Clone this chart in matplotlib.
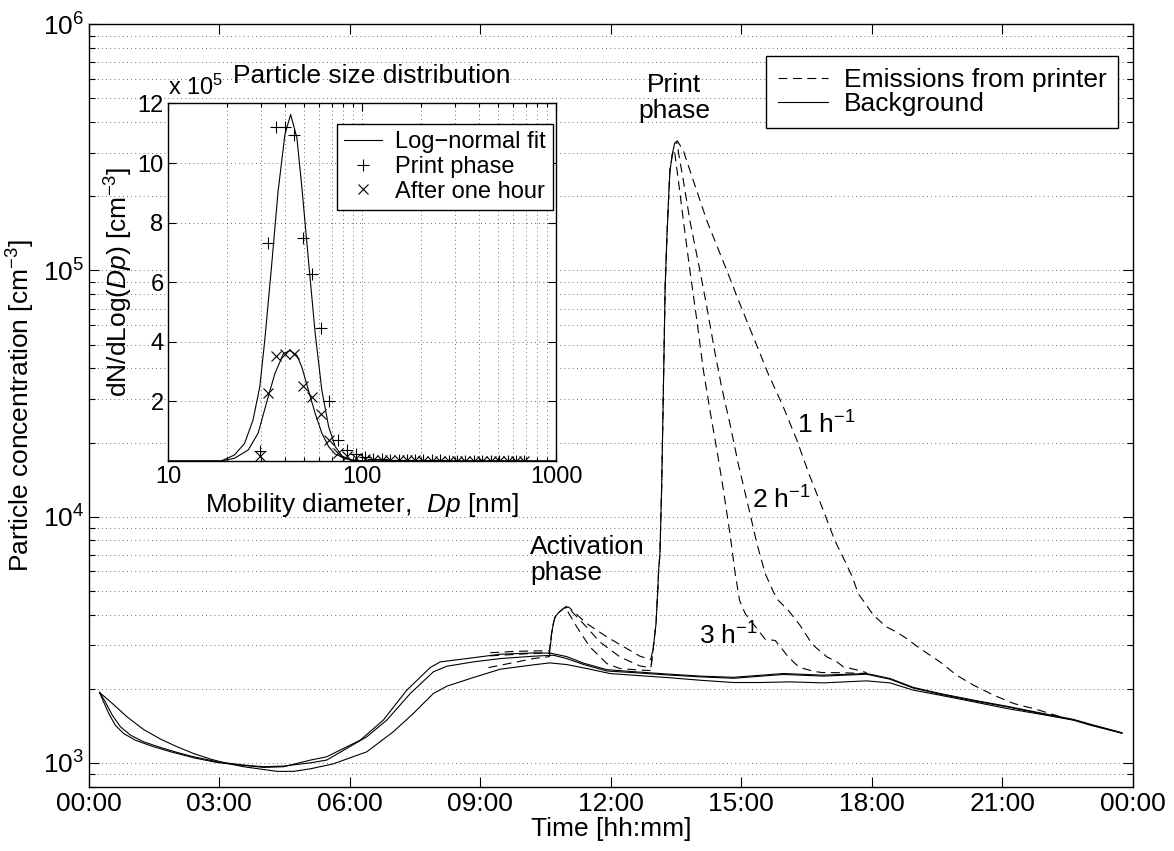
import matplotlib
matplotlib.use("Agg")
import matplotlib.pyplot as plt
from matplotlib.ticker import NullFormatter, LogLocator

plt.rcParams['font.family'] = ['Liberation Sans', 'DejaVu Sans']
plt.rcParams['mathtext.fontset'] = 'custom'
plt.rcParams['mathtext.rm'] = 'Liberation Sans'
plt.rcParams['mathtext.it'] = 'Liberation Sans:italic'
plt.rcParams['mathtext.default'] = 'regular'

# ---- main panel: time of day [h] and particle concentration [cm^-3] ----
hour_ticks = [0, 3, 6, 9, 12, 15, 18, 21, 24]
hour_labels = ["00:00", "03:00", "06:00", "09:00", "12:00", "15:00", "18:00", "21:00", "00:00"]

# background, 3 per hour
t_bg3 = [0.25, 0.34, 0.46, 0.61, 0.80, 1.07, 1.42, 1.88, 2.41, 2.95, 3.56, 4.02, 4.48, 5.10, 5.47,
         6.24, 6.77, 7.31, 7.85, 8.08, 8.69, 9.46, 10.22, 10.60, 10.99, 11.37, 11.91, 12.52, 13.29,
         14.05, 14.82, 15.97, 16.89, 17.88, 18.42, 18.96, 19.57, 20.34, 21.10, 21.87, 22.64, 23.02, 23.75]
c_bg3 = [1930, 1769, 1586, 1422, 1316, 1236, 1173, 1109, 1048, 1003, 976, 958, 964, 1026, 1058,
         1236, 1490, 1972, 2437, 2570, 2651, 2761, 2795, 2790, 2700, 2540, 2390, 2345, 2295,
         2250, 2225, 2305, 2270, 2305, 2200, 2023, 1912, 1797, 1698, 1595, 1500, 1435, 1325]

# background, 2 per hour
t_bg2 = [0.25, 0.38, 0.54, 0.73, 0.96, 1.26, 1.65, 2.03, 2.41, 2.95, 3.56, 4.02, 4.48, 5.10, 5.47,
         6.39, 6.85, 7.39, 7.92, 8.23, 8.84, 9.46, 10.22, 10.68, 10.99, 11.37, 11.91, 12.52, 13.29,
         14.05, 14.82, 15.97, 16.89, 17.88, 18.42, 18.96, 19.57, 20.34, 21.10, 21.87, 22.64, 23.02, 23.75]
c_bg2 = [1930, 1769, 1562, 1400, 1295, 1217, 1154, 1102, 1058, 1010, 979, 964, 970, 1000, 1026,
         1275, 1490, 1911, 2341, 2467, 2570, 2651, 2710, 2735, 2650, 2510, 2360, 2325, 2275,
         2235, 2205, 2285, 2250, 2290, 2185, 2010, 1900, 1785, 1688, 1587, 1493, 1430, 1322]

# background, 1 per hour
t_bg1 = [0.25, 0.50, 0.88, 1.26, 1.65, 2.03, 2.41, 2.80, 3.18, 3.56, 3.95, 4.33, 4.71, 5.10, 5.62,
         6.39, 7.00, 7.46, 7.92, 8.23, 8.84, 9.46, 10.22, 10.60, 10.99, 11.45, 11.98, 12.52, 13.29,
         14.05, 14.82, 15.43, 16.12, 16.89, 17.88, 18.42, 18.96, 19.57, 20.34, 21.10, 21.87, 22.64,
         23.02, 23.75]
c_bg1 = [1930, 1769, 1537, 1366, 1248, 1162, 1091, 1035, 994, 964, 943, 923, 923, 946, 990,
         1108, 1336, 1586, 1911, 2047, 2220, 2400, 2500, 2546, 2506, 2415, 2305, 2269, 2220,
         2165, 2119, 2119, 2132, 2112, 2152, 2112, 1972, 1882, 1769, 1662, 1576, 1490,
         1422, 1318]

# emissions from printer, 3 per hour
t_em3 = [9.23, 9.85, 10.40, 10.59, 10.64, 10.68, 10.72, 10.80, 10.91, 10.95, 11.22, 11.52, 11.91,
         12.21, 12.67, 12.92, 12.98, 13.04, 13.08, 13.10, 13.13, 13.17, 13.21, 13.25, 13.29, 13.33,
         13.36, 13.42, 13.46, 13.555, 13.67, 13.82, 13.98, 14.13, 14.28, 14.44, 14.59, 14.74,
         14.86, 14.96, 15.09, 15.55, 15.78, 15.93, 16.08, 16.28, 16.43, 16.66, 16.85, 17.27, 17.88]
c_em3 = [2720, 2760, 2790, 2790, 3349, 3676, 3912, 4074, 4229, 4295, 3563, 2956, 2530,
         2415, 2380, 2370, 2956, 3676, 5020, 6048, 7070, 13200, 33500, 85300, 136000, 198000,
         254000, 300000, 310000, 231000, 159000, 99700, 62500, 39200, 27000, 18600, 12800, 8520,
         5870, 4570, 4037, 3176, 3139, 2912, 2692, 2490, 2415, 2355, 2326, 2323, 2305]

# emissions from printer, 2 per hour
t_em2 = [9.23, 9.85, 10.38, 10.59, 10.64, 10.68, 10.72, 10.80, 10.91, 10.99, 11.37, 11.75, 12.21,
         12.67, 12.92, 12.98, 13.04, 13.08, 13.10, 13.13, 13.17, 13.21, 13.25, 13.29, 13.33, 13.36,
         13.42, 13.47, 13.52, 13.58, 13.67, 13.82, 14.05, 14.21, 14.40, 14.55, 14.74, 14.93, 15.20,
         15.36, 15.55, 15.74, 15.85, 16.08, 16.35, 16.62, 16.74, 16.97, 17.20, 17.35, 17.69, 17.88]
c_em2 = [2800, 2838, 2850, 2850, 3349, 3676, 3912, 4074, 4229, 4322, 3676, 3097, 2692,
         2475, 2430, 2956, 3676, 5020, 6048, 7070, 13200, 33500, 85300, 136000, 198000, 254000,
         300000, 330000, 330000, 285000, 231000, 159000, 99700, 70800, 45800, 33500, 23800, 16400, 10300,
         7760, 5870, 4940, 4571, 4165, 3620, 3051, 2912, 2692, 2569, 2452, 2377, 2323]

# emissions from printer, 1 per hour
t_em1 = [9.19, 9.80, 10.22, 10.59, 10.64, 10.68, 10.72, 10.80, 10.91, 11.03, 11.45, 11.91, 12.37,
         12.67, 12.92, 12.98, 13.04, 13.08, 13.10, 13.13, 13.17, 13.21, 13.25, 13.29, 13.33, 13.36,
         13.42, 13.47, 13.53, 13.67, 13.90, 14.21, 14.67, 14.97, 15.28, 15.62, 15.97, 16.28, 16.55,
         16.85, 17.15, 17.40, 17.55, 17.69, 17.85, 18.04, 18.34, 18.57, 18.80, 19.11, 19.57, 19.95,
         20.34, 20.80, 21.26, 21.56, 21.72, 22.30]
c_em1 = [2437, 2560, 2651, 2700, 3349, 3676, 3912, 4074, 4229, 4295, 3676, 3246, 2911,
         2710, 2626, 2956, 3676, 5020, 6048, 7070, 13200, 33500, 85300, 136000, 198000, 254000,
         300000, 330000, 336000, 306000, 231000, 159000, 99700, 73000, 53500, 38000, 27800, 20400, 15000,
         11000, 8000, 6500, 5700, 4864, 4434, 3972, 3562, 3400, 3197, 2912, 2569, 2269,
         2066, 1883, 1742, 1687, 1662, 1545]

# ---- inset: particle size distribution (x 10^5 cm^-3) ----
dp = [29.6, 32.7, 36.1, 39.9, 44.7, 49.7, 55.0, 61.0, 67.6, 75.0, 83.9, 93.1, 103, 114, 126, 139,
      154, 170, 187, 207, 229, 253, 280, 309, 341, 377, 417, 461, 509, 563, 622, 687]
print_phase = [0.33, 7.31, 11.2, 11.2, 10.93, 7.47, 6.28, 4.46, 2.0, 0.72, 0.37, 0.23, 0.12, 0.07,
               0.05, 0.04, 0.03, 0.03, 0.02, 0.02, 0.02, 0.02, 0.01, 0.01, 0.01, 0.01, 0.01, 0.01,
               0.01, 0.01, 0.01, 0.01]
after_hour = [0.17, 2.29, 3.51, 3.6, 3.58, 2.51, 2.15, 1.57, 0.72, 0.28, 0.17, 0.09, 0.06, 0.04,
              0.03, 0.03, 0.02, 0.02, 0.02, 0.01, 0.01, 0.01, 0.01, 0.01, 0.01, 0.01, 0.01, 0.01,
              0.01, 0.01, 0.01, 0.01]

fit_dp_print = [10, 18.7, 21.9, 24.7, 27.3, 29.6, 31.4, 34.0, 36.8, 39.9, 42.7, 46.0, 48.8, 52.8,
                57.2, 61.9, 67.1, 72.6, 78.7, 86.9, 100, 1000]
fit_print = [0, 0, 0.2, 0.59, 1.37, 2.49, 4.05, 6.5, 9.06, 10.96, 11.63, 10.85, 9.18, 6.72,
             4.27, 2.37, 1.15, 0.48, 0.17, 0.03, 0, 0]
fit_dp_after = [10, 18.7, 21.9, 25.8, 29.0, 32.7, 35.4, 39.2, 42.4, 46.0, 48.8, 52.8, 57.2, 61.9,
                67.1, 72.6, 81.8, 92.2, 1000]
fit_after = [0, 0, 0.09, 0.37, 0.93, 2.15, 2.93, 3.6, 3.71, 3.55, 3.15, 2.37, 1.59, 0.93,
             0.48, 0.23, 0.08, 0, 0]

dash = (0, (8, 5))
dot = (0, (1, 4))
lw = 0.8

fig = plt.figure(figsize=(11.74, 8.51), dpi=100)
ax = fig.add_axes([0.0756, 0.0756, 0.8893, 0.8959])

ax.plot(t_bg3, c_bg3, color='k', lw=lw)
ax.plot(t_bg2, c_bg2, color='k', lw=lw)
bg_line, = ax.plot(t_bg1, c_bg1, color='k', lw=lw)
ax.plot(t_em3, c_em3, color='k', lw=lw, linestyle=dash)
ax.plot(t_em2, c_em2, color='k', lw=lw, linestyle=dash)
em_line, = ax.plot(t_em1, c_em1, color='k', lw=lw, linestyle=dash)

ax.set_yscale('log')
ax.set_ylim(800, 1e6)
ax.set_xlim(0, 24)
ax.set_xticks(hour_ticks)
ax.set_xticklabels(hour_labels)
ax.yaxis.set_minor_locator(LogLocator(base=10, subs=range(2, 10), numticks=20))
ax.yaxis.set_minor_formatter(NullFormatter())
ax.yaxis.grid(True, which='both', linestyle=dot, color='0.25', lw=0.6)
ax.tick_params(which='both', direction='in', top=True, right=True, labelsize=19, width=0.8)
ax.tick_params(which='major', length=7)
ax.tick_params(which='minor', length=4)
for s in ax.spines.values():
    s.set_linewidth(1.0)
ax.set_xlabel('Time [hh:mm]', fontsize=19, labelpad=1)
ax.set_ylabel('Particle concentration [cm$^{-3}$]', fontsize=19, labelpad=4)

leg = ax.legend([em_line, bg_line], ['Emissions from printer', 'Background'], loc='upper right',
                bbox_to_anchor=(0.986, 0.958), fontsize=19, frameon=True, fancybox=False,
                edgecolor='k', framealpha=1, borderaxespad=0, borderpad=0.45, labelspacing=0.0,
                handlelength=1.9, handletextpad=0.6)
leg.get_frame().set_linewidth(1.0)

ax.text(13.46, 5.0e5, 'Print\nphase', fontsize=19, ha='center', va='center', linespacing=1.1)
ax.text(10.15, 6.67e3, 'Activation\nphase', fontsize=19, ha='left', va='center', linespacing=1.1)
ax.text(16.28, 2.36e4, '1 h$^{-1}$', fontsize=19, ha='left', va='center')
ax.text(15.25, 1.17e4, '2 h$^{-1}$', fontsize=19, ha='left', va='center')
ax.text(14.03, 3.27e3, '3 h$^{-1}$', fontsize=19, ha='left', va='center')

# inset
axin = fig.add_axes([0.1435, 0.4583, 0.3301, 0.4201])
axin.set_facecolor('white')
fit_line, = axin.plot(fit_dp_print, fit_print, color='k', lw=lw)
axin.plot(fit_dp_after, fit_after, color='k', lw=lw)
p_marks, = axin.plot(dp, print_phase, linestyle='none', marker='+', color='k', ms=9, mew=0.8)
a_marks, = axin.plot(dp, after_hour, linestyle='none', marker='x', color='k', ms=6.5, mew=0.8)
axin.set_xscale('log')
axin.set_xlim(10, 1000)
axin.set_ylim(0, 12)
axin.set_yticks([2, 4, 6, 8, 10, 12])
axin.set_xticks([10, 100, 1000])
axin.set_xticklabels(['10', '100', '1000'])
axin.xaxis.set_minor_formatter(NullFormatter())
axin.xaxis.grid(True, which='both', linestyle=dot, color='0.25', lw=0.6)
axin.yaxis.grid(True, which='major', linestyle=dot, color='0.25', lw=0.6)
axin.tick_params(which='both', direction='in', top=True, right=True, labelsize=17, width=0.8)
axin.tick_params(which='major', length=6)
axin.tick_params(which='minor', length=3)
for s in axin.spines.values():
    s.set_linewidth(1.0)
axin.set_xlabel('Mobility diameter,  $\\mathit{Dp}$ [nm]', fontsize=19, labelpad=2)
axin.set_ylabel('dN/dLog($\\mathit{Dp}$) [cm$^{-3}$]', fontsize=19, labelpad=2)
axin.text(0.525, 1.057, 'Particle size distribution', transform=axin.transAxes, fontsize=19,
          ha='center', va='baseline')
axin.text(0.0, 1.024, 'x 10$^{5}$', transform=axin.transAxes, fontsize=17, ha='left', va='baseline')
leg2 = axin.legend([fit_line, p_marks, a_marks], ['Log\u2212normal fit', 'Print phase', 'After one hour'],
                   loc='upper right', bbox_to_anchor=(0.992, 0.943), fontsize=17, frameon=True,
                   fancybox=False, edgecolor='k', framealpha=1, borderaxespad=0, borderpad=0.3,
                   labelspacing=0.12, handlelength=1.6, handletextpad=0.55)
leg2.get_frame().set_linewidth(1.0)

fig.savefig('out.png', dpi=100)
